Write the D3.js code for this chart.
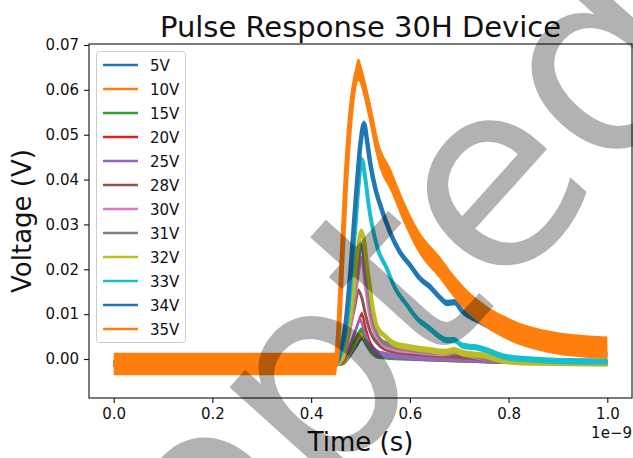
<!DOCTYPE html>
<html>
<head>
<meta charset="utf-8">
<script src="https://d3js.org/d3.v7.min.js"></script>
<style>
  body { margin: 0; background: #fff; }
  svg { display: block; font-family: "DejaVu Sans", sans-serif; }
</style>
</head>
<body>
<svg id="chart" width="633" height="458"></svg>
<script>
// series labels, in drawing order
var labels = ["5V", "10V", "15V", "20V", "25V", "28V", "30V", "31V", "32V", "33V", "34V", "35V"];
var xTicks = [0.0, 0.2, 0.4, 0.6, 0.8, 1.0];
var yTicks = [0.00, 0.01, 0.02, 0.03, 0.04, 0.05, 0.06, 0.07];

// [time (1e-9 s), voltage (V)]
var v5 = [[0, -0.001], [0.45, -0.001], [0.465, -0.0008], [0.48, 0.001], [0.495, 0.0035], [0.503, 0.0047], [0.51, 0.0035], [0.52, 0.0018], [0.54, 0.0006], [0.6, 0.0002], [0.7, -0.0002], [0.8, -0.0005], [1.0, -0.0007]];
var v10 = [[0, -0.001], [0.45, -0.001], [0.465, -0.0006], [0.48, 0.0015], [0.495, 0.0045], [0.502, 0.0055], [0.51, 0.004], [0.52, 0.002], [0.54, 0.0008], [0.6, 0.0003], [0.7, -0.0002], [0.8, -0.0005], [1.0, -0.0007]];
var v15 = [[0, -0.001], [0.45, -0.001], [0.463, -0.0006], [0.48, 0.002], [0.495, 0.0055], [0.502, 0.0065], [0.51, 0.0045], [0.52, 0.0022], [0.54, 0.0009], [0.6, 0.0003], [0.7, -0.0001], [0.8, -0.0005], [1.0, -0.0007]];
var v20 = [[0, -0.001], [0.45, -0.001], [0.463, -0.0005], [0.48, 0.003], [0.495, 0.008], [0.503, 0.010], [0.51, 0.007], [0.52, 0.0035], [0.54, 0.0012], [0.6, 0.0004], [0.7, 0.0], [0.8, -0.0005], [1.0, -0.0008]];
var v25 = [[0, -0.001], [0.45, -0.001], [0.462, -0.0004], [0.478, 0.003], [0.492, 0.007], [0.499, 0.0088], [0.507, 0.0065], [0.518, 0.0032], [0.54, 0.0012], [0.6, 0.0004], [0.7, 0.0], [0.8, -0.0005], [1.0, -0.0008]];
var v28 = [[0, -0.001], [0.45, -0.001], [0.46, -0.0002], [0.475, 0.005], [0.487, 0.011], [0.496, 0.0152], [0.503, 0.0135], [0.51, 0.010], [0.52, 0.006], [0.535, 0.0035], [0.56, 0.002], [0.62, 0.0012], [0.7, 0.0006], [0.8, -0.0003], [1.0, -0.0006]];
var v30 = [[0, -0.001], [0.45, -0.001], [0.462, 0.0], [0.478, 0.006], [0.492, 0.016], [0.502, 0.0225], [0.51, 0.016], [0.518, 0.010], [0.524, 0.007], [0.535, 0.0045], [0.56, 0.0025], [0.62, 0.0016], [0.67, 0.0012], [0.69, 0.0016], [0.72, 0.0008], [0.8, -0.0004], [1.0, -0.0008]];
var v31 = [[0, -0.001], [0.45, -0.001], [0.462, 0.0], [0.478, 0.007], [0.492, 0.018], [0.502, 0.0255], [0.51, 0.019], [0.52, 0.011], [0.53, 0.0065], [0.55, 0.0035], [0.6, 0.0022], [0.67, 0.0015], [0.69, 0.0018], [0.72, 0.001], [0.8, -0.0004], [1.0, -0.0009]];
var v32 = [[0, -0.001], [0.45, -0.001], [0.463, 0.0], [0.475, 0.006], [0.485, 0.014], [0.494, 0.024], [0.502, 0.0285], [0.508, 0.026], [0.512, 0.022], [0.518, 0.017], [0.524, 0.012], [0.534, 0.0071], [0.552, 0.0049], [0.57, 0.0033], [0.6, 0.0026], [0.64, 0.002], [0.67, 0.0016], [0.69, 0.002], [0.71, 0.0012], [0.75, 0.0008], [0.79, -0.0004], [0.85, -0.0008], [1.0, -0.001]];
var v33 = [[0, -0.001], [0.45, -0.001], [0.46, 0.001], [0.47, 0.006], [0.48, 0.016], [0.49, 0.030], [0.498, 0.041], [0.503, 0.0445], [0.51, 0.040], [0.517, 0.034], [0.524, 0.0295], [0.535, 0.0245], [0.552, 0.0205], [0.57, 0.0158], [0.593, 0.0122], [0.615, 0.009], [0.64, 0.0068], [0.66, 0.005], [0.675, 0.0042], [0.69, 0.0042], [0.706, 0.003], [0.74, 0.0025], [0.76, 0.0018], [0.788, 0.0006], [0.856, -0.0002], [0.93, -0.0005], [1.0, -0.0006]];
var v34 = [[0, -0.001], [0.45, -0.001], [0.46, 0.002], [0.47, 0.008], [0.48, 0.020], [0.49, 0.035], [0.5, 0.048], [0.507, 0.0525], [0.514, 0.048], [0.52, 0.0435], [0.53, 0.038], [0.538, 0.035], [0.559, 0.0285], [0.58, 0.0238], [0.6, 0.021], [0.62, 0.018], [0.64, 0.0162], [0.66, 0.0138], [0.675, 0.0125], [0.69, 0.0127], [0.705, 0.0108], [0.74, 0.0085], [0.78, 0.0063], [0.85, 0.004], [0.92, 0.002], [1.0, 0.001]];
var v35 = [[0, -0.0011], [0.45, -0.0011], [0.455, 0.005], [0.462, 0.021], [0.47, 0.039], [0.478, 0.052], [0.488, 0.0615], [0.496, 0.0645], [0.503, 0.0625], [0.512, 0.0585], [0.522, 0.0535], [0.534, 0.047], [0.563, 0.0395], [0.589, 0.0325], [0.619, 0.026], [0.66, 0.0205], [0.687, 0.0165], [0.72, 0.0125], [0.755, 0.0094], [0.788, 0.0073], [0.822, 0.0056], [0.889, 0.0037], [0.957, 0.0028], [1.0, 0.0025]];
var series = [v5, v10, v15, v20, v25, v28, v30, v31, v32, v33, v34, v35];
// half width of the noise band of each trace (V)
var noise = [0.0006, 0.0006, 0.0006, 0.0006, 0.0006, 0.0006, 0.0006, 0.0006, 0.0007, 0.0007, 0.0007, 0.0025];

var colors = ["#1f77b4", "#ff7f0e", "#2ca02c", "#d62728", "#9467bd", "#8c564b", "#e377c2", "#7f7f7f", "#bcbd22", "#17becf", "#1f77b4", "#ff7f0e"];
var widths = [2.5, 2.5, 2.5, 2.5, 2.5, 3, 3, 3, 4, 4, 4.5, 5];

var svg = d3.select("#chart");
var mLeft = 89, mRight = 632, mTop = 44, mBottom = 398;

var x = d3.scaleLinear().domain([-0.05, 1.05]).range([mLeft, mRight]);
var y = d3.scaleLinear().domain([-0.00869, 0.07022]).range([mBottom, mTop]);

svg.append("defs").append("clipPath").attr("id", "plotClip")
    .append("rect").attr("x", mLeft).attr("y", mTop).attr("width", mRight - mLeft).attr("height", mBottom - mTop);

var plot = svg.append("g").attr("clip-path", "url(#plotClip)");

var line = d3.line().x(function(d) { return x(d[0]); }).y(function(d) { return y(d[1]); }).curve(d3.curveMonotoneX);

series.forEach(function(s, i) {
    var band = d3.area()
        .x(function(d) { return x(d[0]); })
        .y0(function(d) { return y(d[1] - noise[i]); })
        .y1(function(d) { return y(d[1] + noise[i]); })
        .curve(d3.curveMonotoneX);
    plot.append("path").datum(s).attr("d", band).attr("fill", colors[i]);
    plot.append("path").datum(s).attr("d", line)
        .attr("fill", "none").attr("stroke", colors[i])
        .attr("stroke-width", widths[i]).attr("stroke-linejoin", "round");
});

// axes
var xAxis = svg.append("g").attr("transform", "translate(0," + mBottom + ")")
    .call(d3.axisBottom(x).tickValues(xTicks).tickFormat(d3.format(".1f")).tickSize(5).tickPadding(5));
var yAxis = svg.append("g").attr("transform", "translate(" + mLeft + ",0)")
    .call(d3.axisLeft(y).tickValues(yTicks).tickFormat(d3.format(".2f")).tickSize(5).tickPadding(5));
[xAxis, yAxis].forEach(function(a) {
    a.select(".domain").remove();
    a.selectAll("text").attr("font-size", 15).attr("font-family", "DejaVu Sans").attr("fill", "#111");
    a.selectAll("line").attr("stroke", "#111").attr("stroke-width", 1.1);
});
svg.append("rect").attr("x", mLeft).attr("y", mTop).attr("width", mRight - mLeft).attr("height", mBottom - mTop)
    .attr("fill", "none").attr("stroke", "#111").attr("stroke-width", 1.1);

// legend
var legend = svg.append("g");
legend.append("rect").attr("x", 96.5).attr("y", 51.5).attr("width", 89).attr("height", 291)
    .attr("rx", 3).attr("fill", "#fff").attr("fill-opacity", 0.8).attr("stroke", "#cccccc");
labels.forEach(function(l, i) {
    var cy = 65 + i * 24;
    legend.append("line").attr("x1", 103).attr("x2", 138).attr("y1", cy).attr("y2", cy)
        .attr("stroke", colors[i]).attr("stroke-width", 2.5);
    legend.append("text").attr("x", 150).attr("y", cy + 5.5).attr("font-size", 15).attr("fill", "#111").text(l);
});

// titles
svg.append("text").attr("x", (mLeft + mRight) / 2).attr("y", 37).attr("text-anchor", "middle")
    .attr("font-size", 29).attr("fill", "#111").text("Pulse Response 30H Device");
svg.append("text").attr("x", (mLeft + mRight) / 2).attr("y", 451).attr("text-anchor", "middle")
    .attr("font-size", 26).attr("fill", "#111").text("Time (s)");
svg.append("text").attr("transform", "translate(22," + (mTop + mBottom) / 2 + ") rotate(-90)")
    .attr("text-anchor", "middle").attr("dy", "0.35em").attr("font-size", 26).attr("fill", "#111").text("Voltage (V)");
svg.append("text").attr("x", mRight).attr("y", 438).attr("text-anchor", "end")
    .attr("font-size", 15).attr("fill", "#111").text("1e\u22129");

// watermark
svg.append("text").attr("transform", "translate(-95,960) rotate(-48)")
    .attr("font-size", 260).attr("fill", "#000").attr("fill-opacity", 0.3).text("Accepted");
</script>
</body>
</html>
